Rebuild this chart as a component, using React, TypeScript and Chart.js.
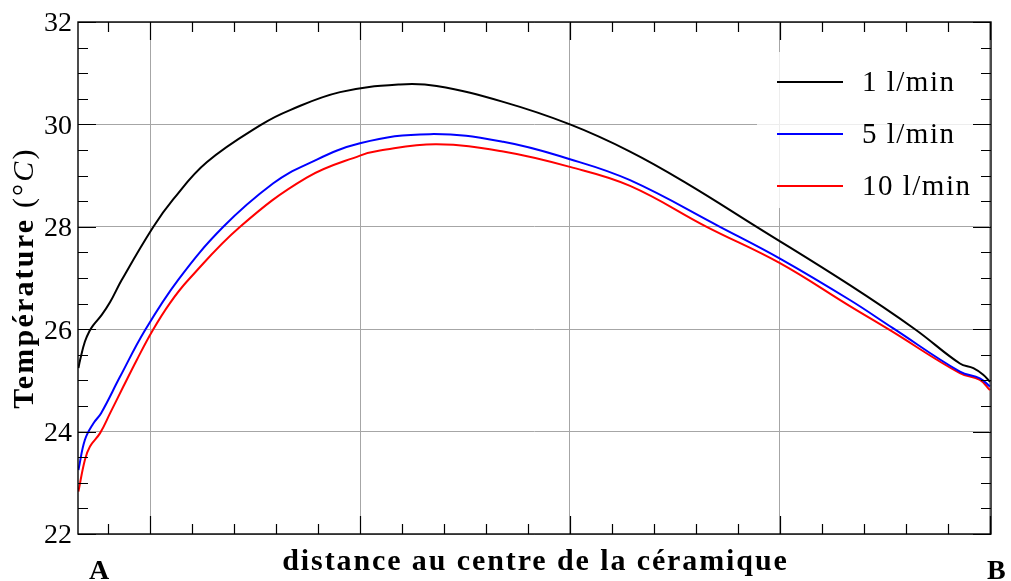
import React, { useEffect, useRef } from "react";
import { Chart, registerables } from "chart.js";

Chart.register(...registerables);

// ---- data (x: distance units, A at left edge, B at right edge; T in °C) ----
const xBlack = [-0.341, -0.333, -0.31, -0.286, -0.27, -0.23, -0.19, -0.135, 0.016, 0.111, 0.27, 0.532, 0.667, 0.905, 1.19, 1.365, 1.682, 2.0, 2.286, 2.556, 2.889, 3.333, 3.643, 3.857, 3.921, 3.968, 4.0];
const tBlack = [25.24, 25.4, 25.76, 25.98, 26.08, 26.28, 26.53, 26.96, 28.0, 28.54, 29.26, 30.0, 30.28, 30.63, 30.78, 30.75, 30.44, 30.0, 29.47, 28.85, 28.0, 26.86, 26.0, 25.33, 25.24, 25.11, 24.97];

const xBlue = [-0.341, -0.31, -0.27, -0.233, -0.143, -0.024, 0.135, 0.349, 0.587, 0.746, 1.0, 1.333, 1.682, 2.0, 2.286, 2.714, 3.0, 3.333, 3.538, 3.857, 3.952, 4.0];
const tBlue = [23.25, 23.84, 24.16, 24.36, 25.07, 25.98, 26.97, 28.0, 28.85, 29.22, 29.63, 29.81, 29.66, 29.32, 28.91, 28.0, 27.38, 26.57, 26.02, 25.17, 25.04, 24.88];

const xRed = [-0.341, -0.31, -0.286, -0.238, -0.19, -0.127, -0.063, 0.013, 0.095, 0.182, 0.429, 0.746, 1.0, 1.095, 1.365, 1.682, 2.0, 2.286, 2.651, 3.0, 3.333, 3.524, 3.857, 3.952, 4.0];
const tRed = [22.83, 23.45, 23.71, 23.97, 24.36, 24.88, 25.4, 25.98, 26.51, 26.96, 28.0, 28.96, 29.39, 29.49, 29.61, 29.47, 29.17, 28.8, 28.0, 27.29, 26.45, 25.98, 25.14, 25.01, 24.81];

const seriesLabels = ["1 l/min", "5 l/min", "10 l/min"];
const seriesColors = ["#000000", "#0000ff", "#ff0000"];

const xMin = -0.343;
const xMax = 4.005;
const xMajorTicks = [0, 1, 2, 3, 4];
const xMinorStep = 0.2;
const yMin = 22;
const yMax = 32;
const yTicks = [22, 24, 26, 28, 30, 32];
const yMinorStep = 0.5;

const xTitle = "distance au centre de la céramique";
const yTitleBold = "Température ";
const endLabels = ["A", "B"];

const SERIF = "'Liberation Serif', 'DejaVu Serif', serif";

const decorPlugin = {
  id: "decor",
  afterDatasetsDraw(chart: any) {
    const ctx = chart.ctx as CanvasRenderingContext2D & { letterSpacing?: string };
    const { left, right, top, bottom } = chart.chartArea;
    const xs = chart.scales.x;
    const ys = chart.scales.y;
    ctx.save();

    // inward ticks
    ctx.strokeStyle = "#000";
    ctx.lineWidth = 1.2;
    const majorLen = 18;
    const minorLen = 10;
    ctx.beginPath();
    for (let v = Math.ceil(xMin / xMinorStep) * xMinorStep; v <= xMax + 1e-9; v += xMinorStep) {
      const vv = Math.round(v * 1000) / 1000;
      const isMajor = xMajorTicks.some((m) => Math.abs(m - vv) < 1e-6);
      const px = Math.round(xs.getPixelForValue(vv)) + 0.5;
      const len = isMajor ? majorLen : minorLen;
      ctx.moveTo(px, bottom);
      ctx.lineTo(px, bottom - len);
      ctx.moveTo(px, top);
      ctx.lineTo(px, top + len);
    }
    for (let v = yMin; v <= yMax + 1e-9; v += yMinorStep) {
      const isMajor = yTicks.some((m) => Math.abs(m - v) < 1e-6);
      const py = Math.round(ys.getPixelForValue(v)) + 0.5;
      const len = isMajor ? majorLen : minorLen;
      ctx.moveTo(left, py);
      ctx.lineTo(left + len, py);
      ctx.moveTo(right, py);
      ctx.lineTo(right - len, py);
    }
    ctx.stroke();

    // frame
    ctx.lineWidth = 1.4;
    ctx.strokeRect(left, top, right - left, bottom - top);

    // y tick labels
    ctx.fillStyle = "#000";
    ctx.font = `28px ${SERIF}`;
    ctx.textAlign = "right";
    ctx.textBaseline = "middle";
    for (const v of yTicks) {
      ctx.fillText(String(v), left - 6, ys.getPixelForValue(v) + 2);
    }

    // legend
    const lx0 = 757, ly0 = 52, lx1 = 973, ly1 = 208;
    ctx.fillStyle = "rgba(255,255,255,0.8)";
    ctx.fillRect(lx0, ly0, lx1 - lx0, ly1 - ly0);
    const rowY = [82, 134, 186];
    ctx.font = `29px ${SERIF}`;
    ctx.letterSpacing = "1.5px";
    ctx.textAlign = "left";
    ctx.textBaseline = "middle";
    seriesLabels.forEach((lab, i) => {
      ctx.strokeStyle = seriesColors[i];
      ctx.lineWidth = 2;
      ctx.beginPath();
      ctx.moveTo(777, rowY[i]);
      ctx.lineTo(843, rowY[i]);
      ctx.stroke();
      ctx.fillStyle = "#000";
      ctx.fillText(lab, 862, rowY[i] + 1);
    });

    // x title
    ctx.fillStyle = "#000";
    ctx.font = `bold 30px ${SERIF}`;
    ctx.letterSpacing = "1.9px";
    ctx.textAlign = "center";
    ctx.textBaseline = "alphabetic";
    ctx.fillText(xTitle, (left + right) / 2 + 1, 570);

    // A / B
    ctx.letterSpacing = "0px";
    ctx.textAlign = "left";
    ctx.font = `bold 28px ${SERIF}`;
    ctx.fillText(endLabels[0], 89, 579);
    ctx.fillText(endLabels[1], 987, 579);

    // y title (rotated)
    ctx.letterSpacing = "2.2px";
    const parts: [string, string][] = [
      [yTitleBold, `bold 30px ${SERIF}`],
      ["(", `30px ${SERIF}`],
      ["°", `30px ${SERIF}`],
      ["C", `italic 30px ${SERIF}`],
      [")", `30px ${SERIF}`],
    ];
    let total = 0;
    const widths = parts.map(([t, f]) => {
      ctx.font = f;
      const w = ctx.measureText(t).width;
      total += w;
      return w;
    });
    ctx.translate(33, (top + bottom) / 2);
    ctx.rotate(-Math.PI / 2);
    let cx = -total / 2;
    ctx.textAlign = "left";
    parts.forEach(([t, f], i) => {
      ctx.font = f;
      ctx.fillText(t, cx, 0);
      cx += widths[i];
    });

    ctx.restore();
  },
};

function mk(xa: number[], ya: number[]) {
  return xa.map((x, i) => ({ x, y: ya[i] }));
}

export default function App() {
  const ref = useRef<HTMLCanvasElement | null>(null);
  useEffect(() => {
    document.body.style.margin = "0";
    const canvas = ref.current!;
    const chart = new Chart(canvas, {
      type: "line",
      data: {
        datasets: [
          { label: seriesLabels[0], data: mk(xBlack, tBlack), borderColor: seriesColors[0] },
          { label: seriesLabels[1], data: mk(xBlue, tBlue), borderColor: seriesColors[1] },
          { label: seriesLabels[2], data: mk(xRed, tRed), borderColor: seriesColors[2] },
        ].map((d) => ({
          ...d,
          borderWidth: 2,
          pointRadius: 0,
          fill: false,
          tension: 0.4,
        })),
      },
      options: {
        responsive: false,
        animation: false,
        events: [],
        layout: { padding: { left: 78, top: 22, right: 20, bottom: 47 } },
        plugins: { legend: { display: false }, tooltip: { enabled: false } },
        scales: {
          x: {
            type: "linear",
            min: xMin,
            max: xMax,
            afterBuildTicks: (s: any) => {
              s.ticks = xMajorTicks.map((v) => ({ value: v }));
            },
            ticks: { display: false },
            grid: { color: "#a6a6a6", lineWidth: 1, drawTicks: false },
            border: { display: false },
          },
          y: {
            type: "linear",
            min: yMin,
            max: yMax,
            afterBuildTicks: (s: any) => {
              s.ticks = yTicks.map((v) => ({ value: v }));
            },
            ticks: { display: false },
            grid: { color: "#a6a6a6", lineWidth: 1, drawTicks: false },
            border: { display: false },
          },
        },
      },
      plugins: [decorPlugin],
    });
    return () => chart.destroy();
  }, []);
  return (
    <div style={{ width: 1011, height: 581 }}>
      <canvas ref={ref} width={1011} height={581} style={{ display: "block" }} />
    </div>
  );
}
